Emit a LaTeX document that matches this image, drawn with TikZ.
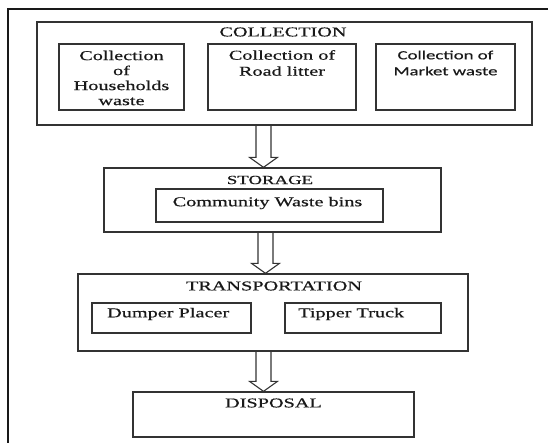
\documentclass[tikz,border=0pt]{standalone}
\usepackage{fontspec}
\setmainfont{Liberation Serif}[FakeStretch=1.5,FakeBold=0.6]
\newfontfamily\calib{Carlito}[FakeStretch=1.5,FakeBold=0.4]
\usetikzlibrary{calc}
\begin{document}
\begin{tikzpicture}[x=1pt,y=-1pt,
  box/.style={draw=black!80,line width=1.3pt,rectangle,inner sep=0pt},
  frameline/.style={draw=black!90,line width=1.7pt},
  txt/.style={inner sep=0pt,text=black!90,font=\fontsize{13.5}{15}\selectfont,align=center},
  sanstxt/.style={inner sep=0pt,text=black!90,font=\calib\fontsize{12.5}{16}\selectfont,align=center},
  hollow/.style={draw=black!80,line width=1.1pt,to path={let \p1=(\tikztostart), \p2=(\tikztotarget) in
     (\x1-7.5pt,\y1) -- (\x1-7.5pt,\y2+10pt) -- (\x1-14pt,\y2+10pt) -- (\x1,\y2) -- (\x1+14pt,\y2+10pt) -- (\x1+7.5pt,\y2+10pt) -- (\x1+7.5pt,\y1)}}
]
\useasboundingbox (0,0) rectangle (548,443);
\draw[frameline] (548,9) -- (8,9) -- (8,443);

% COLLECTION
\node[box,minimum width=495pt,minimum height=103pt] (coll) at (284.5,73.5) {};
\node[txt] (collT) at (283,32) {COLLECTION};
\node[box,minimum width=125pt,minimum height=66pt] (hh) at (121.5,77) {};
\node[txt] (hhT) at (121.5,78) {Collection\\of\\Households\\waste};
\node[box,minimum width=148pt,minimum height=66pt] (road) at (282,77) {};
\node[txt,font=\fontsize{13.5}{16}\selectfont] (roadT) at (282,63) {Collection of\\Road litter};
\node[box,minimum width=139pt,minimum height=66pt] (mkt) at (445.5,77) {};
\node[sanstxt] (mktT) at (445.5,63) {Collection of\\Market waste};

% STORAGE
\node[box,minimum width=337pt,minimum height=64pt] (stor) at (272.5,200) {};
\node[txt,font=\fontsize{12.5}{15}\selectfont] (storT) at (270,180) {STORAGE};
\node[box,minimum width=227pt,minimum height=33pt] (bins) at (269.5,205.5) {};
\node[txt] (binsT) at (267.5,203) {Community Waste bins};

% TRANSPORTATION
\node[box,minimum width=390pt,minimum height=77pt] (trans) at (273,312.5) {};
\node[txt] (transT) at (274,286) {TRANSPORTATION};
\node[box,minimum width=159pt,minimum height=30pt] (dump) at (171.5,318) {};
\node[txt,anchor=west] (dumpT) at (107,314) {Dumper Placer};
\node[box,minimum width=156pt,minimum height=30pt] (tip) at (363,318) {};
\node[txt,anchor=west] (tipT) at (298,314) {Tipper Truck};

% DISPOSAL
\node[box,minimum width=281pt,minimum height=45pt] (disp) at (273.5,414.5) {};
\node[txt] (dispT) at (273.5,403) {DISPOSAL};

% arrows
\coordinate (a1) at (263.5,0);
\coordinate (a2) at (265.5,0);
\coordinate (a3) at (263.5,0);
\draw[hollow] (coll.south -| a1) to (stor.north -| a1);
\draw[hollow] (stor.south -| a2) to (trans.north -| a2);
\draw[hollow] (trans.south -| a3) to (disp.north -| a3);
\end{tikzpicture}
\end{document}
